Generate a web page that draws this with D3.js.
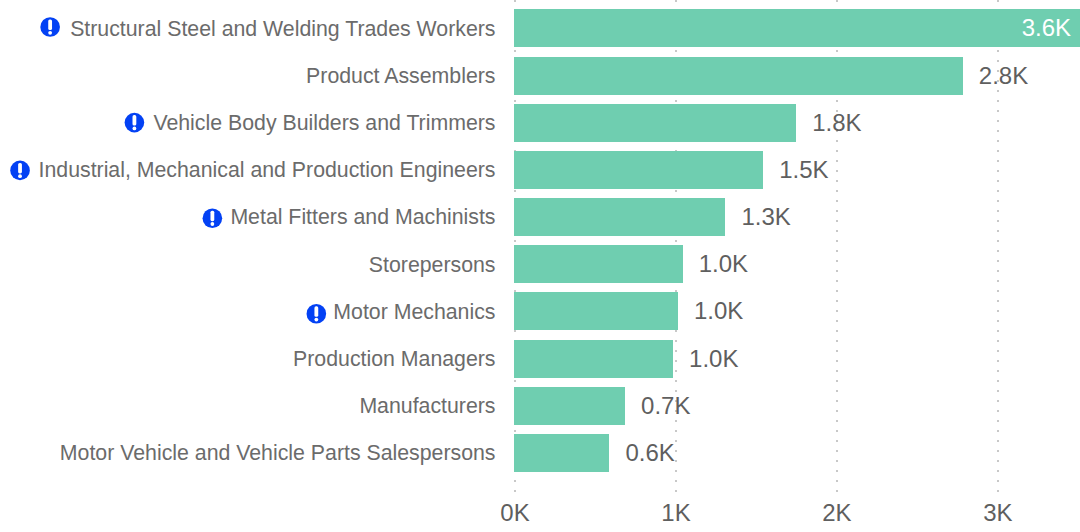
<!DOCTYPE html>
<html><head><meta charset="utf-8">
<script src="https://d3js.org/d3.v7.min.js"></script>
<style>html,body{margin:0;padding:0;background:#fff;overflow:hidden}svg{display:block}text{font-family:"Liberation Sans",Arial,sans-serif}</style>
</head><body><svg id="c" width="1080" height="532"></svg>
<script>
const categories=["Structural Steel and Welding Trades Workers","Product Assemblers","Vehicle Body Builders and Trimmers","Industrial, Mechanical and Production Engineers","Metal Fitters and Machinists","Storepersons","Motor Mechanics","Production Managers","Manufacturers","Motor Vehicle and Vehicle Parts Salespersons"];
const values=[3600,2785,1750,1545,1310,1045,1015,985,687,590];
const valueLabels=["3.6K","2.8K","1.8K","1.5K","1.3K","1.0K","1.0K","1.0K","0.7K","0.6K"];
const flagged=["Structural Steel and Welding Trades Workers","Vehicle Body Builders and Trimmers","Industrial, Mechanical and Production Engineers","Metal Fitters and Machinists","Motor Mechanics"];
const ticks=[0,1000,2000,3000];
const svg=d3.select("#c");
const x=d3.scaleLinear().domain([0,3513]).range([514.5,1080]);
const y=d3.scalePoint().domain(categories).range([9.4,433.9]);
const barTop=d=>Math.round(y(d));
const iconY=d3.scaleLinear().domain([0,9]).range([27,457.2]);
const iconGap=d3.scaleLinear().domain([0,6]).range([20,17]);
const grid=svg.append("g");
grid.selectAll("line").data(ticks).join("line")
 .attr("x1",d=>Math.round(x(d)+0.5)).attr("x2",d=>Math.round(x(d)+0.5)).attr("y1",0).attr("y2",492)
 .attr("stroke","#c8c8c8").attr("stroke-width",2).attr("stroke-dasharray","2 8");
const xAxis=d3.axisBottom(x).tickValues(ticks).tickSize(0).tickPadding(0).tickFormat(d=>(d/1000)+"K");
const ax=svg.append("g").attr("transform","translate(0,504)").call(xAxis);
ax.select(".domain").remove();
ax.selectAll("text").attr("font-size",24).attr("fill","#5f5f5f").attr("font-family",'"Liberation Sans",Arial,sans-serif').attr("dy","0.71em");
svg.append("g").selectAll("rect").data(categories).join("rect")
 .attr("x",514).attr("y",barTop).attr("height",38)
 .attr("width",(d,i)=>Math.round(Math.min(x(values[i]),1080))-514).attr("fill","#6fceb0");
const labels=svg.append("g");
labels.selectAll("text").data(categories).join("text")
 .attr("x",495.5).attr("y",d=>y(d)+18.9).attr("dy","0.35em").attr("text-anchor","end")
 .attr("font-size",21.3).attr("fill","#6b6b6b").text(d=>d)
 .each(function(d,i){
  if(!flagged.includes(d))return;
  const w=this.getComputedTextLength();
  const g=labels.append("g").attr("transform",`translate(${495.5-w-iconGap(i)},${iconY(i)})`);
  g.append("circle").attr("r",9.8).attr("fill","#0341f4");
  g.append("rect").attr("x",-1.9).attr("y",-7.5).attr("width",3.8).attr("height",10.5).attr("rx",1.6).attr("fill","#fff");
  g.append("circle").attr("cy",5.8).attr("r",1.9).attr("fill","#fff");
 });
svg.append("g").selectAll("text").data(categories).join("text")
 .attr("y",d=>barTop(d)+19).attr("dy","0.35em").attr("font-size",24)
 .attr("x",(d,i)=>i===0?1071:x(values[i])+16)
 .attr("text-anchor",(d,i)=>i===0?"end":"start")
 .attr("fill",(d,i)=>i===0?"#ffffff":"#5f5f5f")
 .text((d,i)=>valueLabels[i]);
</script></body></html>
